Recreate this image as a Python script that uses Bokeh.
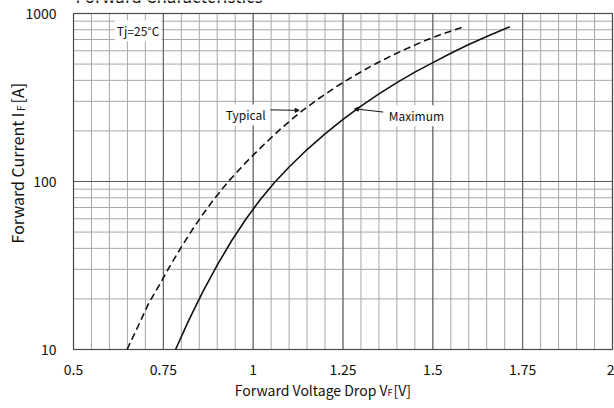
import math
from bokeh.plotting import figure
from bokeh.models import Label, FixedTicker, Arrow, NormalHead, Range1d, BoxAnnotation
from bokeh.embed import file_html
from bokeh.resources import INLINE

# ---------------- data ----------------
typ_v = [0.649, 0.680, 0.710, 0.740, 0.770, 0.800, 0.830, 0.860, 0.890, 0.931,
         0.980, 1.030, 1.080, 1.130, 1.180, 1.230, 1.280, 1.330, 1.380, 1.430,
         1.480, 1.530, 1.580]
typ_i = [10, 13.8, 19, 24.4, 31.8, 40.7, 51.4, 63.8, 78.1, 100,
         130, 166, 209, 257, 309, 365, 425, 488, 554, 622,
         692, 760, 825]

max_v = [0.784, 0.820, 0.860, 0.900, 0.940, 0.980, 1.020, 1.060, 1.100, 1.150,
         1.200, 1.250, 1.300, 1.350, 1.400, 1.450, 1.500, 1.550, 1.600, 1.650, 1.714]
max_i = [10, 14.8, 22.1, 31.8, 44.4, 59.8, 78.2, 98.9, 122, 155,
         192, 234, 281, 332, 388, 448, 510, 580, 653, 729, 834]

x_ticks = [0.5, 0.75, 1.0, 1.25, 1.5, 1.75, 2.0]
x_tick_labels = {0.5: "0.5", 0.75: "0.75", 1.0: "1", 1.25: "1.25", 1.5: "1.5", 1.75: "1.75", 2.0: "2"}
y_ticks = [10, 100, 1000]
y_tick_labels = {10: "10", 100: "100", 1000: "1000"}

X_MIN, X_MAX = 0.5, 2.0
Y_MIN, Y_MAX = 10, 1000

FONT = "Noto Sans CJK JP"
INK = "#111111"

# The frame fills the whole page; the plotting box (0.5..2 V, 10..1000 A)
# sits inside it so that axis titles can be placed freely around it.
W, H = 614, 408
BOX_L, BOX_R, BOX_T, BOX_B = 73, 612, 13, 349   # pixel edges of the plotting box
ppx = (BOX_R - BOX_L) / (X_MAX - X_MIN)
ppd = (BOX_B - BOX_T) / (math.log10(Y_MAX) - math.log10(Y_MIN))
xr = Range1d(X_MIN - BOX_L / ppx, X_MAX + (W - BOX_R) / ppx)
yr = Range1d(10 ** (math.log10(Y_MIN) - (H - BOX_B) / ppd),
             10 ** (math.log10(Y_MAX) + BOX_T / ppd))

p = figure(width=W, height=H, y_axis_type="log", x_range=xr, y_range=yr,
           output_backend="svg", toolbar_location=None,
           min_border=0, min_border_left=0, min_border_right=0,
           min_border_top=0, min_border_bottom=0)
p.background_fill_color = "white"
p.border_fill_color = "white"
p.outline_line_color = None
p.xgrid.visible = False
p.ygrid.visible = False

# grid lines, limited to the plotting box
minor_x = [round(X_MIN + 0.05 * k, 2) for k in range(31)]
minor_y = [m * d for d in (10, 100) for m in range(2, 10)]

p.segment(x0=minor_x, x1=minor_x, y0=[Y_MIN] * len(minor_x), y1=[Y_MAX] * len(minor_x),
          line_color="#a8a8a8", line_width=1)
p.segment(x0=[X_MIN] * len(minor_y), x1=[X_MAX] * len(minor_y), y0=minor_y, y1=minor_y,
          line_color="#a8a8a8", line_width=1)
p.segment(x0=x_ticks, x1=x_ticks, y0=[Y_MIN] * len(x_ticks), y1=[Y_MAX] * len(x_ticks),
          line_color="#5a5a5a", line_width=1)
p.segment(x0=[X_MIN] * len(y_ticks), x1=[X_MAX] * len(y_ticks), y0=y_ticks, y1=y_ticks,
          line_color="#5a5a5a", line_width=1)

# axes drawn along the edges of the plotting box
for ax in (p.xaxis[0], p.yaxis[0]):
    ax.axis_line_color = None
    ax.major_tick_line_color = None
    ax.minor_tick_line_color = None
    ax.major_label_text_font = FONT
    ax.major_label_text_font_size = "14px"
    ax.major_label_text_color = INK

p.xaxis[0].fixed_location = Y_MIN
p.xaxis[0].ticker = FixedTicker(ticks=x_ticks)
p.xaxis[0].major_label_overrides = x_tick_labels
p.xaxis[0].major_label_standoff = 8
p.yaxis[0].fixed_location = X_MIN
p.yaxis[0].ticker = FixedTicker(ticks=y_ticks)
p.yaxis[0].major_label_overrides = y_tick_labels
p.yaxis[0].major_label_standoff = 11

# curves
p.line(typ_v, typ_i, line_color=INK, line_width=1.6, line_dash="7 4")
p.line(max_v, max_i, line_color=INK, line_width=1.6)

# border of the plotting box
p.add_layout(BoxAnnotation(left=X_MIN, right=X_MAX, bottom=Y_MIN, top=Y_MAX,
                           fill_color=None, line_color="#222222", line_width=1.6))


def lab(text, x, y, size="14px", **kw):
    l = Label(x=x, y=y, x_units="screen", y_units="screen", text=text,
              text_font=FONT, text_font_size=size, text_color=INK, **kw)
    p.add_layout(l)
    return l


# title (its upper part lies above the page, as in the reference)
lab("Forward Characteristics", 75, 413, size="17px", text_baseline="alphabetic")

# x axis title with subscript
lab("Forward Voltage Drop V", 387, 19, text_align="right", text_baseline="alphabetic")
lab("F", 387, 16, size="9px", text_align="left", text_baseline="alphabetic")
lab("[V]", 393, 19, text_align="left", text_baseline="alphabetic")

# y axis title (rotated) with subscript
lab("Forward Current I", 16.5, 296, size="16px", text_align="right",
    text_baseline="alphabetic", angle=math.pi / 2)
lab("F", 19.5, 297.5, size="10px", text_align="left", text_baseline="alphabetic", angle=math.pi / 2)
lab("[A]", 16.5, 305, size="16px", text_align="left", text_baseline="alphabetic", angle=math.pi / 2)


def dlab(text, x, y):
    p.add_layout(Label(x=x, y=y, text=text, text_font=FONT, text_font_size="12px",
                       text_color=INK, text_baseline="middle",
                       background_fill_color="white", padding=2))


dlab("Tj=25\u00b0C", 0.615, 790)
dlab("Typical", 0.918, 249)
dlab("Maximum", 1.372, 246)

p.add_layout(Arrow(x_start=1.048, y_start=267, x_end=1.128, y_end=265,
                   line_color=INK, line_width=1,
                   end=NormalHead(size=4, fill_color=INK, line_color=INK)))
p.add_layout(Arrow(x_start=1.362, y_start=259, x_end=1.282, y_end=271,
                   line_color=INK, line_width=1,
                   end=NormalHead(size=4, fill_color=INK, line_color=INK)))

open("out.html", "w").write(file_html(p, INLINE))
